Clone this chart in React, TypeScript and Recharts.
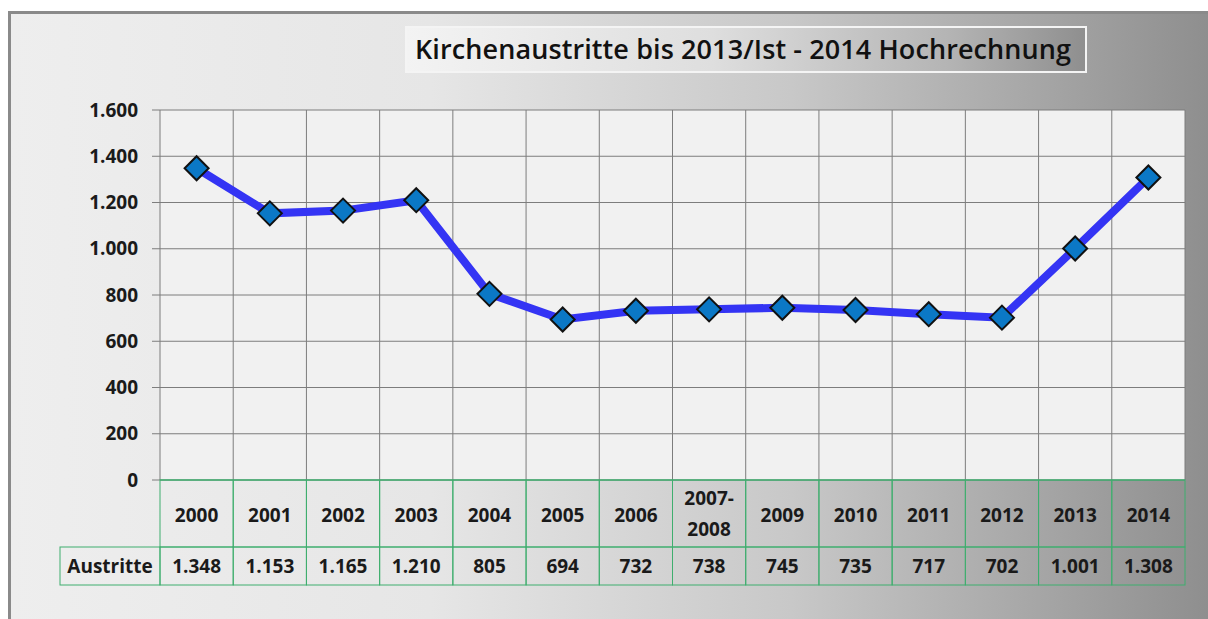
import { LineChart, Line, XAxis, YAxis, CartesianGrid, ReferenceLine } from "recharts";

const YEARS = ["2000", "2001", "2002", "2003", "2004", "2005", "2006", "2007-2008", "2009", "2010", "2011", "2012", "2013", "2014"];
const AUSTRITTE = [1348, 1153, 1165, 1210, 805, 694, 732, 738, 745, 735, 717, 702, 1001, 1308];
const Y_TICKS = [0, 200, 400, 600, 800, 1000, 1200, 1400, 1600];
const TITLE = "Kirchenaustritte bis 2013/Ist - 2014 Hochrechnung";
const ROW_LABEL = "Austritte";

const data = YEARS.map((year, i) => ({ year, austritte: AUSTRITTE[i] }));

const FONT = "'Open Sans', 'Noto Sans', sans-serif";
const GREEN = "#3fae6e";
const HEAD_H = 67;
const ROW_H = 38;
const LABEL_W = 100;
const FS = 19;

const fmt = (v: number) => v.toLocaleString("de-DE");

function Diamond(props: any) {
  const { cx, cy } = props;
  if (cx == null || cy == null) return null;
  const r = 12;
  return (
    <polygon
      points={`${cx},${cy - r} ${cx + r},${cy} ${cx},${cy + r} ${cx - r},${cy}`}
      fill="#0b78c6"
      stroke="#111"
      strokeWidth={2}
    />
  );
}

function TableTick(props: any) {
  const { x, y, payload, index } = props;
  const half = payload.offset || 0;
  const left = x - half;
  const w = half * 2;
  const label: string = payload.value;
  const parts = label.includes("-") ? [label.split("-")[0] + "-", label.split("-")[1]] : [label];
  const value = AUSTRITTE[index];
  const mid = y + HEAD_H / 2;
  return (
    <g fontFamily={FONT} fontWeight={700} fontSize={FS} fill="#1a1a1a">
      <rect x={left} y={y} width={w} height={HEAD_H} fill="none" stroke={GREEN} strokeWidth={1} />
      <rect x={left} y={y + HEAD_H} width={w} height={ROW_H} fill="none" stroke={GREEN} strokeWidth={1} />
      {parts.length === 1 ? (
        <text x={x} y={mid + 8} textAnchor="middle">{parts[0]}</text>
      ) : (
        <text x={x} textAnchor="middle">
          <tspan x={x} y={mid - 9}>{parts[0]}</tspan>
          <tspan x={x} y={mid + 22}>{parts[1]}</tspan>
        </text>
      )}
      <text x={x} y={y + HEAD_H + ROW_H / 2 + 7} textAnchor="middle">{fmt(value)}</text>
      {index === 0 && (
        <g>
          <rect x={left - LABEL_W} y={y + HEAD_H} width={LABEL_W} height={ROW_H} fill="none" stroke={GREEN} strokeWidth={1} />
          <text x={left - LABEL_W / 2} y={y + HEAD_H + ROW_H / 2 + 7} textAnchor="middle">{ROW_LABEL}</text>
        </g>
      )}
    </g>
  );
}

export default function App() {
  return (
    <div style={{ position: "absolute", left: 0, top: 0, width: 1208, height: 619, background: "#fff", overflow: "hidden" }}>
      <div
        style={{
          position: "absolute",
          left: 8,
          top: 11,
          width: 1200,
          height: 608,
          borderLeft: "3px solid #8a8a8a",
          borderTop: "3px solid #8a8a8a",
          background: "linear-gradient(to right, #eeeeee 0%, #e6e6e6 35%, #c8c8c8 65%, #a2a2a2 88%, #8e8e8e 100%)",
        }}
      />
      <div
        style={{
          position: "absolute",
          left: 405,
          top: 26,
          width: 682,
          height: 47,
          boxSizing: "border-box",
          border: "2px solid #f4f4f4",
          background: "linear-gradient(to right, #f3f3f3 0%, #dedede 45%, #b4b4b4 80%, #8f8f8f 100%)",
          fontFamily: FONT,
          fontWeight: 600,
          fontSize: 27,
          color: "#111",
          lineHeight: "42px",
          paddingLeft: 8,
          textAlign: "left",
          whiteSpace: "nowrap",
          letterSpacing: 0.1,
        }}
      >
        {TITLE}
      </div>
      <div style={{ position: "absolute", left: 0, top: 0 }}>
        <LineChart width={1208} height={619} data={data} margin={{ top: 110, right: 23, bottom: 34, left: 100 }}>
          <CartesianGrid vertical={false} fill="#f1f1f1" stroke="#7d7d7d" strokeWidth={1} fillOpacity={1} />
          {YEARS.map((y) => (
            <ReferenceLine key={y} x={y} position="start" stroke="#7d7d7d" strokeWidth={1} />
          ))}
          <ReferenceLine x={YEARS[YEARS.length - 1]} position="end" stroke="#7d7d7d" strokeWidth={1} />
          <ReferenceLine y={0} stroke={GREEN} strokeWidth={1} />
          <XAxis
            dataKey="year"
            scale="band"
            height={105}
            interval={0}
            axisLine={false}
            tickLine={false}
            tickSize={0}
            tickMargin={0}
            tick={<TableTick />}
          />
          <YAxis
            width={60}
            domain={[0, 1600]}
            ticks={Y_TICKS}
            interval={0}
            axisLine={false}
            tickSize={8}
            tickMargin={14}
            tickLine={{ stroke: "#7d7d7d" }}
            tickFormatter={fmt}
            tick={{ fontFamily: FONT, fontWeight: 700, fontSize: FS, fill: "#1a1a1a" }}
          />
          <Line
            type="linear"
            dataKey="austritte"
            stroke="#3434f4"
            strokeWidth={8}
            dot={<Diamond />}
            activeDot={false}
            isAnimationActive={false}
          />
        </LineChart>
      </div>
    </div>
  );
}
